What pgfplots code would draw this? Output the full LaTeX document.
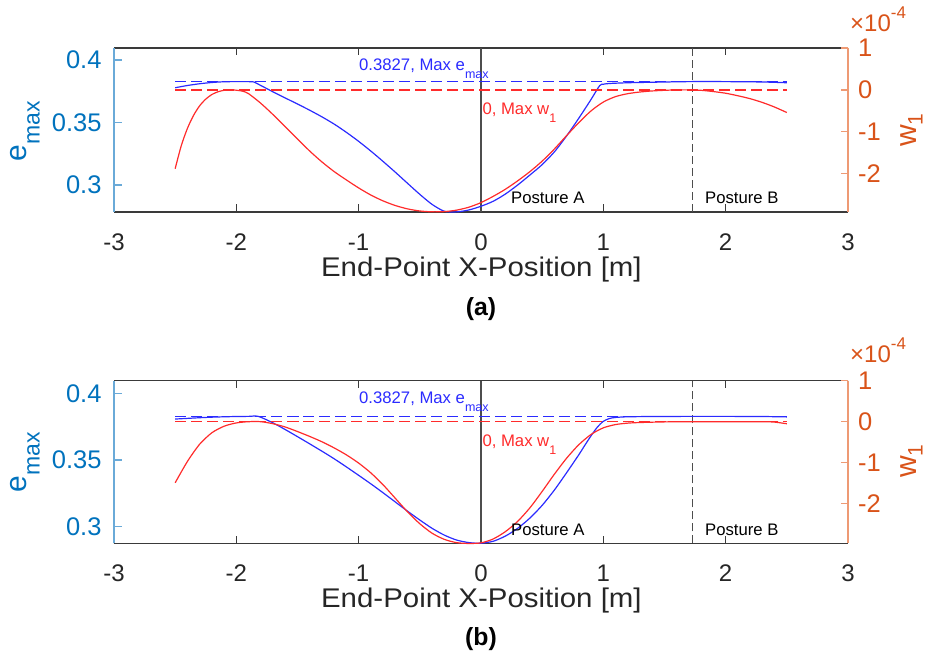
\documentclass[border=0pt]{standalone}
\usepackage{fontspec}
\setmainfont{Liberation Sans}
\newfontfamily\xlabfont{Liberation Sans}[FakeStretch=1.09]
\usepackage{pgfplots}
\usepackage{pgfplotstable}
\pgfplotsset{compat=1.18}
\definecolor{matblue}{HTML}{0072BD}
\definecolor{matorange}{HTML}{D95319}
\definecolor{axgray}{HTML}{262626}
\definecolor{lblue}{HTML}{6AAAD8}
\definecolor{lorange}{HTML}{EE9A74}
\definecolor{framegray}{HTML}{3A3A3A}
\definecolor{vlinegray}{HTML}{4D4D4D}
\definecolor{dblue}{HTML}{2B2BFF}
\definecolor{dred}{HTML}{FF2B2B}
\newcommand{\fs}[1]{\fontsize{#1}{#1}\selectfont}

\pgfplotstableread{
x e
-2.5 0.3778
-2.4 0.3796
-2.3 0.3810
-2.2 0.3820
-2.1 0.3826
-2.0 0.3827
-1.9 0.3827
-1.86 0.3825
-1.8 0.3796
-1.7 0.3745
-1.6 0.3696
-1.5 0.3648
-1.4 0.3598
-1.3 0.3545
-1.2 0.3487
-1.1 0.3421
-1.0 0.3349
-0.9 0.3271
-0.8 0.3188
-0.7 0.3102
-0.6 0.3013
-0.5 0.2925
-0.4 0.2845
-0.3 0.2790
-0.2 0.2785
-0.1 0.2800
0.0 0.2830
0.1 0.2870
0.2 0.2928
0.3 0.3000
0.4 0.3080
0.5 0.3163
0.6 0.3265
0.7 0.3393
0.8 0.3535
0.9 0.3685
0.97 0.3795
1.0 0.3806
1.05 0.3812
1.2 0.3818
1.4 0.3822
1.7 0.3827
2.0 0.3827
2.3 0.3824
2.5 0.3818
}\blueA

\pgfplotstableread{
x w
-2.5 -1.88
-2.45 -1.33
-2.4 -0.92
-2.35 -0.61
-2.3 -0.38
-2.25 -0.22
-2.2 -0.11
-2.15 -0.045
-2.1 -0.01
-2.03 0.00
-1.95 -0.03
-1.9 -0.09
-1.8 -0.32
-1.7 -0.59
-1.6 -0.88
-1.5 -1.17
-1.4 -1.46
-1.3 -1.72
-1.2 -1.95
-1.1 -2.15
-1.0 -2.34
-0.9 -2.51
-0.8 -2.65
-0.7 -2.76
-0.6 -2.84
-0.5 -2.89
-0.4 -2.91
-0.3 -2.905
-0.2 -2.87
-0.1 -2.80
0.0 -2.69
0.1 -2.54
0.2 -2.37
0.3 -2.17
0.4 -1.95
0.5 -1.70
0.6 -1.41
0.7 -1.09
0.8 -0.78
0.9 -0.50
1.0 -0.29
1.1 -0.16
1.2 -0.09
1.3 -0.05
1.4 -0.025
1.5 -0.01
1.6 0.00
1.7 0.00
1.8 -0.01
1.9 -0.04
2.0 -0.08
2.1 -0.14
2.2 -0.21
2.3 -0.30
2.4 -0.41
2.5 -0.54
}\redA

\pgfplotstableread{
x e
-2.5 0.3807
-2.4 0.3812
-2.3 0.3817
-2.2 0.3821
-2.1 0.3824
-2.0 0.3826
-1.9 0.3827
-1.82 0.3827
-1.7 0.3778
-1.6 0.3728
-1.5 0.3675
-1.4 0.3621
-1.3 0.3566
-1.2 0.3509
-1.1 0.3448
-1.0 0.3385
-0.9 0.3321
-0.8 0.3254
-0.7 0.3185
-0.6 0.3116
-0.5 0.3050
-0.4 0.2988
-0.3 0.2937
-0.2 0.2900
-0.1 0.2881
0.0 0.2876
0.1 0.2891
0.2 0.2930
0.3 0.2988
0.4 0.3065
0.5 0.3160
0.6 0.3275
0.7 0.3405
0.8 0.3540
0.85 0.3612
0.9 0.3682
0.95 0.3745
1.0 0.3790
1.05 0.3811
1.1 0.3819
1.2 0.3824
1.4 0.3826
1.7 0.3827
2.0 0.3827
2.3 0.3826
2.5 0.3823
}\blueB

\pgfplotstableread{
x w
-2.5 -1.49
-2.4 -0.97
-2.3 -0.55
-2.2 -0.27
-2.1 -0.11
-2.0 -0.03
-1.9 0.00
-1.8 0.00
-1.7 -0.05
-1.6 -0.13
-1.5 -0.24
-1.4 -0.36
-1.3 -0.49
-1.2 -0.64
-1.1 -0.81
-1.0 -1.01
-0.9 -1.25
-0.8 -1.54
-0.7 -1.87
-0.6 -2.20
-0.5 -2.49
-0.4 -2.72
-0.3 -2.87
-0.2 -2.95
-0.1 -2.97
0.0 -2.955
0.1 -2.86
0.2 -2.68
0.3 -2.43
0.4 -2.10
0.5 -1.70
0.6 -1.28
0.7 -0.89
0.8 -0.56
0.9 -0.31
1.0 -0.15
1.1 -0.07
1.2 -0.035
1.3 -0.02
1.5 -0.005
1.7 0.00
2.0 0.00
2.3 0.00
2.4 -0.01
2.5 -0.05
}\redB

\pgfplotstableread{
x e
-2.5 0.3827
-1.5 0.3827
-0.5 0.3827
0.5 0.3827
1.5 0.3827
2.5 0.3827
}\bluemax

\pgfplotstableread{
x w
-2.5 0
-1.5 0
-0.5 0
0.5 0
1.5 0
2.5 0
}\redmax

\pgfplotsset{
  leftax/.style={
    scale only axis, width=734pt, clip=false,
    xmin=-3, xmax=3,
    axis line style={draw=none},
    tick align=inside, major tick length=7.5pt,
    xtick={-3,-2,-1,0,1,2,3}, xticklabels={-3,-2,-1,0,1,2,3},
    xtick pos=both,
    xtick style={draw=framegray, line width=1.2pt},
    xticklabel style={font=\fs{24}, text=axgray, inner sep=0pt, anchor=north, yshift=-21.3pt},
    ytick={0.3,0.35,0.4}, yticklabels={0.3,0.35,0.4},
    ytick pos=left,
    ytick style={draw=lblue, line width=1.3pt},
    yticklabel style={font=\fs{25.5}, text=matblue, inner sep=0pt, anchor=east, xshift=-12.3pt},
  },
  rightax/.style={
    scale only axis, width=734pt, clip=false,
    xmin=-3, xmax=3,
    axis line style={draw=none},
    xtick=\empty,
    tick align=inside, major tick length=7.5pt,
    ytick={-2,-1,0,1}, yticklabels={-2,-1,0,1},
    ytick pos=right,
    ytick style={draw=lorange, line width=1.3pt},
    yticklabel style={font=\fs{25.5}, text=matorange, inner sep=0pt, anchor=west, xshift=10pt},
  },
}

\begin{document}
\begin{tikzpicture}[x=1pt,y=1pt]
\useasboundingbox (0,0) rectangle (927,653);

% ---------------- (a) ----------------
\begin{axis}[leftax, at={(114pt,441pt)}, anchor=south west, height=164pt,
  ymin=0.2784, ymax=0.4096]
  \draw[framegray, line width=1.2pt] (rel axis cs:0,0) -- (rel axis cs:1,0);
  \draw[framegray, line width=1.2pt] (rel axis cs:0,1) -- (rel axis cs:1,1);
  \draw[lblue, line width=1.4pt] (rel axis cs:0,0) -- (rel axis cs:0,1);
  \draw[lorange, line width=1.4pt] (rel axis cs:1,0) -- (rel axis cs:1,1);
  \addplot[vlinegray, line width=1.2pt] coordinates {(0,0.2784) (0,0.4096)};
  \addplot[vlinegray, line width=1.2pt, dash pattern=on 8pt off 4pt] coordinates {(1.732,0.2784) (1.732,0.4096)};
  \addplot[dblue, line width=1.3pt, dash pattern=on 11pt off 5pt] table[x=x,y=e] {\bluemax};
  \addplot[dblue, line width=1.2pt, smooth, tension=0.45] table[x=x,y=e] {\blueA};
\end{axis}
\begin{axis}[rightax, at={(114pt,441pt)}, anchor=south west, height=164pt,
  ymin=-2.914, ymax=1]
  \addplot[dred, line width=1.3pt, dash pattern=on 11pt off 5pt] table[x=x,y=w] {\redmax};
  \addplot[dred, line width=1.2pt, smooth, tension=0.45] table[x=x,y=w] {\redA};
\end{axis}

% ---------------- (b) ----------------
\begin{axis}[leftax, at={(114pt,109.7pt)}, anchor=south west, height=162.6pt,
  ymin=0.28756, ymax=0.40945]
  \draw[framegray, line width=1.2pt] (rel axis cs:0,0) -- (rel axis cs:1,0);
  \draw[framegray, line width=1.2pt] (rel axis cs:0,1) -- (rel axis cs:1,1);
  \draw[lblue, line width=1.4pt] (rel axis cs:0,0) -- (rel axis cs:0,1);
  \draw[lorange, line width=1.4pt] (rel axis cs:1,0) -- (rel axis cs:1,1);
  \addplot[vlinegray, line width=1.2pt] coordinates {(0,0.28756) (0,0.40945)};
  \addplot[vlinegray, line width=1.2pt, dash pattern=on 8pt off 4pt] coordinates {(1.732,0.28756) (1.732,0.40945)};
  \addplot[dblue, line width=1.3pt, dash pattern=on 11pt off 5pt] table[x=x,y=e] {\bluemax};
  \addplot[dblue, line width=1.2pt, smooth, tension=0.45] table[x=x,y=e] {\blueB};
\end{axis}
\begin{axis}[rightax, at={(114pt,109.7pt)}, anchor=south west, height=162.6pt,
  ymin=-2.966, ymax=1]
  \addplot[dred, line width=1.3pt, dash pattern=on 11pt off 5pt] table[x=x,y=w] {\redmax};
  \addplot[dred, line width=1.2pt, smooth, tension=0.45] table[x=x,y=w] {\redB};
\end{axis}

% ---- annotations (a) ----
\node[anchor=base west, inner sep=0pt, text=dblue, font=\fs{16.7}] at (359,582) {0.3827, Max e\raisebox{-7.3pt}{\fs{12.5}max}};
\node[anchor=base west, inner sep=0pt, text=dred, font=\fs{16.7}] at (482.3,538.7) {0, Max w\raisebox{-8pt}{\fs{12.5}1}};
\node[anchor=base west, inner sep=0pt, text=black, font=\fs{16.7}] at (511,449.7) {Posture A};
\node[anchor=base west, inner sep=0pt, text=black, font=\fs{16.7}] at (705,449.7) {Posture B};
\node[anchor=base west, inner sep=0pt, text=matorange, font=\fs{24}] at (850,621) {×10\raisebox{13pt}{\fs{17}-4}};
\node[rotate=90, anchor=base, inner sep=0pt, text=matblue, font=\fs{30}] at (26.7,522) {e\raisebox{-13pt}{\fs{23}max}};
\node[rotate=90, anchor=base, inner sep=0pt, text=matorange, font=\fs{30}] at (916.7,523) {w\raisebox{-6pt}{\fs{21}1}};
\node[anchor=base, inner sep=0pt, text=axgray, font=\xlabfont\fs{27}] at (481.4,376.3) {End-Point X-Position [m]};
\node[anchor=base, inner sep=0pt, text=black, font=\bfseries\fs{24.8}] at (481,337) {(a)};

% ---- annotations (b) ----
\node[anchor=base west, inner sep=0pt, text=dblue, font=\fs{16.7}] at (359,249) {0.3827, Max e\raisebox{-7.3pt}{\fs{12.5}max}};
\node[anchor=base west, inner sep=0pt, text=dred, font=\fs{16.7}] at (482.3,206.7) {0, Max w\raisebox{-8pt}{\fs{12.5}1}};
\node[anchor=base west, inner sep=0pt, text=black, font=\fs{16.7}] at (511,117.3) {Posture A};
\node[anchor=base west, inner sep=0pt, text=black, font=\fs{16.7}] at (705,117.3) {Posture B};
\node[anchor=base west, inner sep=0pt, text=matorange, font=\fs{24}] at (850,290.3) {×10\raisebox{13pt}{\fs{17}-4}};
\node[rotate=90, anchor=base, inner sep=0pt, text=matblue, font=\fs{30}] at (26.7,191) {e\raisebox{-13pt}{\fs{23}max}};
\node[rotate=90, anchor=base, inner sep=0pt, text=matorange, font=\fs{30}] at (916.7,192) {w\raisebox{-6pt}{\fs{21}1}};
\node[anchor=base, inner sep=0pt, text=axgray, font=\xlabfont\fs{27}] at (481.4,45) {End-Point X-Position [m]};
\node[anchor=base, inner sep=0pt, text=black, font=\bfseries\fs{24.8}] at (481,7) {(b)};
\end{tikzpicture}
\end{document}
